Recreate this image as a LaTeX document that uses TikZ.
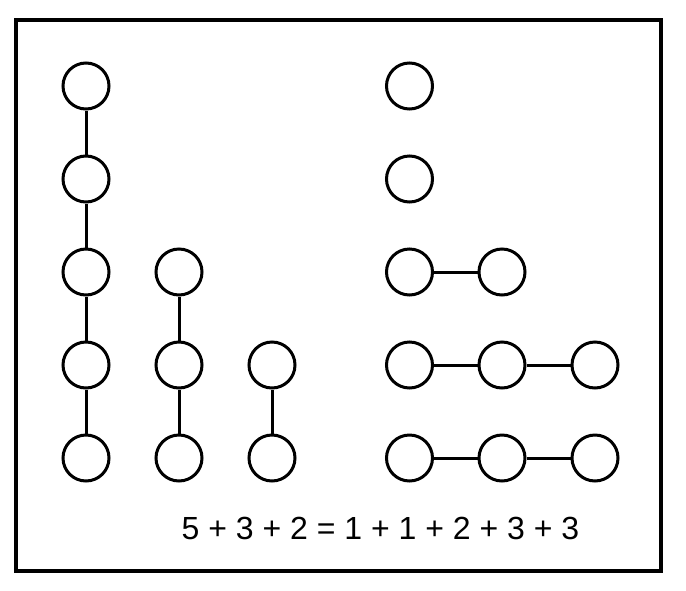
\documentclass[tikz,border=0pt]{standalone}
\usepackage{fontspec}
\setmainfont{Liberation Sans}
\begin{document}
\begin{tikzpicture}[x=1pt,y=-1pt,
  dot/.style={circle,draw,line width=3pt,minimum size=46pt,inner sep=0pt},
  link/.style={line width=3pt}]
\useasboundingbox (0,0) rectangle (686,590);
\draw[line width=4pt] (15.5,19.5) rectangle (661,571);
% left columns
\foreach \i/\y in {1/86,2/179,3/272,4/365,5/458} \node[dot] (a\i) at (86,\y) {};
\foreach \i/\y in {3/272,4/365,5/458} \node[dot] (b\i) at (179,\y) {};
\foreach \i/\y in {4/365,5/458} \node[dot] (c\i) at (272,\y) {};
\draw[link] (a1) -- (a2); \draw[link] (a2) -- (a3); \draw[link] (a3) -- (a4); \draw[link] (a4) -- (a5);
\draw[link] (b3) -- (b4); \draw[link] (b4) -- (b5);
\draw[link] (c4) -- (c5);
% right rows
\foreach \i/\y in {1/86,2/179,3/272,4/365,5/458} \node[dot] (p\i) at (409.5,\y) {};
\foreach \i/\y in {3/272,4/365,5/458} \node[dot] (q\i) at (502,\y) {};
\foreach \i/\y in {4/365,5/458} \node[dot] (r\i) at (595,\y) {};
\draw[link] (p3) -- (q3);
\draw[link] (p4) -- (q4); \draw[link] (q4) -- (r4);
\draw[link] (p5) -- (q5); \draw[link] (q5) -- (r5);
\node[font=\fontsize{32}{36}\selectfont,inner sep=0pt] (eq) at (380.5,528.5) {5 + 3 + 2 = 1 + 1 + 2 + 3 + 3};
\end{tikzpicture}
\end{document}
